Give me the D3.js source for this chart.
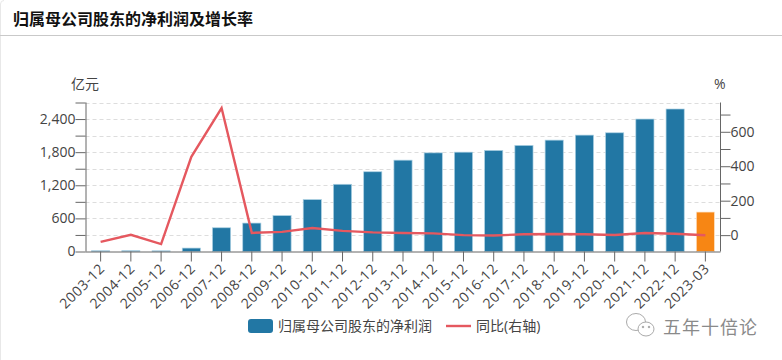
<!DOCTYPE html>
<html><head><meta charset="utf-8">
<script src="https://cdnjs.cloudflare.com/ajax/libs/d3/7.8.5/d3.min.js"></script>
<style>html,body{margin:0;padding:0;background:#fff}svg{display:block}
text{font-family:"Open Sans","Noto Sans CJK SC",sans-serif}</style></head><body>
<svg id="c" width="782" height="360"></svg>
<script>
const categories=["2003-12","2004-12","2005-12","2006-12","2007-12","2008-12","2009-12","2010-12","2011-12","2012-12","2013-12","2014-12","2015-12","2016-12","2017-12","2018-12","2019-12","2020-12","2021-12","2022-12","2023-03"];
const profit=[13,14,12,62,430,515,650,940,1218,1445,1655,1787,1800,1831,1922,2018,2109,2151,2400,2582,715];
const growth=[-39,2,-52,455,738,13,19,41,25,16,12,10,0,-2,5,7,5,1,12,8,-1];
const leftTicks=[0,300,600,900,1200,1500,1800,2100,2400,2700];
const rightTicks=[0,100,200,300,400,500,600,700];
const seriesNames=["归属母公司股东的净利润","同比(右轴)"];
const title="归属母公司股东的净利润及增长率";
const M={l:85.5,r:720.5,t:102.5,b:251.5};
const svg=d3.select("#c");
const ink="#444",axisC="#666";
svg.append("path").attr("d","M0.5,360V4Q0.5,0.5 4,0.5").attr("fill","none").attr("stroke","#e8e8e8");
svg.append("line").attr("x1",0).attr("x2",782).attr("y1",35.5).attr("y2",35.5).attr("stroke","#c9c9c9");
svg.append("text").attr("x",13).attr("y",25).attr("font-size",16).attr("font-weight",700).attr("fill","#111").text(title);
const x=d3.scaleBand().domain(categories).range([M.l,M.r]);
const yL=d3.scaleLinear().domain([0,2700]).range([M.b,M.t]);
const yR=d3.scaleLinear().domain([-95,770]).range([M.b,M.t]);
const bw=x.bandwidth()*0.6;
svg.append("g").selectAll("line").data(leftTicks.slice(1)).join("line")
 .attr("x1",M.l).attr("x2",M.r).attr("y1",d=>Math.round(yL(d))+.5).attr("y2",d=>Math.round(yL(d))+.5)
 .attr("stroke","#ddd").attr("stroke-dasharray","4 3");
svg.append("g").selectAll("rect").data(categories).join("rect")
 .attr("x",d=>x(d)+(x.bandwidth()-bw)/2).attr("width",bw)
 .attr("y",(d,i)=>yL(profit[i])).attr("height",(d,i)=>M.b-yL(profit[i]))
 .attr("fill",(d,i)=>i===categories.length-1?"#f78614":"#2277a4")
 .attr("stroke",(d,i)=>i===categories.length-1?"#fde3c8":"#a9cfe2").attr("stroke-width",0.7);
const line=d3.line().x(d=>x(d.c)+x.bandwidth()/2).y(d=>yR(d.v));
svg.append("path").datum(categories.map((c,i)=>({c,v:growth[i]}))).attr("d",line)
 .attr("fill","none").attr("stroke","#e5585f").attr("stroke-width",2.4);
const fmt=d3.format(",");
const gL=svg.append("g").attr("transform",`translate(${M.l},0)`).call(d3.axisLeft(yL).tickValues(leftTicks).tickSize(10).tickPadding(0).tickFormat(d=>d%600===0&&d<2700?fmt(d):""));
const gR=svg.append("g").attr("transform",`translate(${M.r},0)`).call(d3.axisRight(yR).tickValues(rightTicks).tickSize(10).tickPadding(0).tickFormat(d=>d%200===0?d:""));
const gB=svg.append("g").attr("transform",`translate(0,${M.b})`).call(d3.axisBottom(x).tickSize(10).tickPadding(2));
[gL,gR,gB].forEach(g=>{g.select(".domain").attr("stroke",axisC).attr("stroke-width",1);g.selectAll(".tick line").attr("stroke",axisC);g.selectAll("text").attr("fill",ink).attr("font-size",14).attr("font-family",'"Open Sans",sans-serif');});
gL.select(".domain").attr("d",`M0.5,${M.t}V${M.b}`);
gR.select(".domain").attr("d",`M0,${M.t}V${M.b}`);
gB.select(".domain").attr("d",`M${M.l},0.5H${M.r}`);
gB.selectAll("text").attr("font-size",14).attr("letter-spacing",0.6).attr("text-anchor","end").attr("dy",0).attr("y",0)
 .attr("transform","translate(5,18) rotate(-45)");
svg.append("text").attr("x",71).attr("y",89).attr("font-size",14).attr("fill",ink).text("亿元");
svg.append("text").attr("x",714).attr("y",89).attr("font-size",14).attr("fill",ink).text("%");
const lg=svg.append("g");
lg.append("rect").attr("x",248).attr("y",319).attr("width",25).attr("height",14).attr("rx",3).attr("fill","#2277a4");
lg.append("text").attr("x",278).attr("y",331).attr("font-size",14).attr("fill",ink).text(seriesNames[0]);
lg.append("line").attr("x1",446).attr("x2",471).attr("y1",326).attr("y2",326).attr("stroke","#e5585f").attr("stroke-width",2.4);
lg.append("text").attr("x",476).attr("y",331).attr("font-size",14).attr("fill",ink).text(seriesNames[1]);
const wm=svg.append("g").attr("fill","#fff").attr("stroke","#aaa").attr("stroke-width",1);
wm.append("ellipse").attr("cx",636).attr("cy",322).attr("rx",9.5).attr("ry",8.5);
wm.append("ellipse").attr("cx",646).attr("cy",329).attr("rx",8).attr("ry",7);
wm.append("circle").attr("cx",643).attr("cy",327).attr("r",.8).attr("fill","#777");
wm.append("circle").attr("cx",649).attr("cy",327).attr("r",.8).attr("fill","#777");
svg.append("text").attr("x",663).attr("y",334).attr("font-size",18).attr("letter-spacing",1).attr("fill","#8a8a8a").text("五年十倍论");
</script></body></html>
